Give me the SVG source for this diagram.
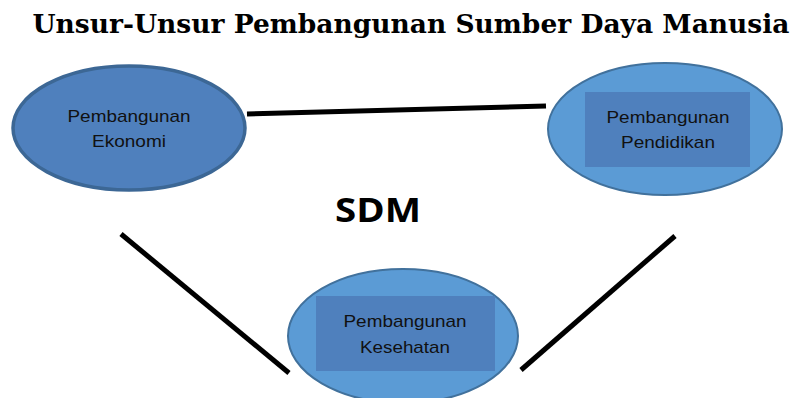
<svg xmlns="http://www.w3.org/2000/svg" width="795" height="398" viewBox="0 0 795 398">
<style>
.lbl{font-family:"Liberation Sans","Open Sans",sans-serif;font-size:17px;fill:#111;text-anchor:middle}
.conn{stroke:#000;stroke-width:5;fill:none}
.inner{fill:#4f80bd}
.light{fill:#5b9bd5;stroke:#41719c;stroke-width:2}
</style>
<rect width="795" height="398" fill="#fff"/>
<text x="411" y="33" text-anchor="middle" font-family="'DejaVu Serif','Liberation Serif',serif" font-weight="bold" font-size="26" textLength="757" lengthAdjust="spacingAndGlyphs">Unsur-Unsur Pembangunan Sumber Daya Manusia</text>
<g id="connectors">
<line class="conn" x1="247" y1="114" x2="546" y2="106"/>
<line class="conn" x1="121" y1="234" x2="289" y2="373"/>
<line class="conn" x1="675" y1="236" x2="521" y2="370"/>
</g>
<g id="ekonomi">
<ellipse cx="129" cy="128" rx="116" ry="62" fill="#4f80bd" stroke="#3c6795" stroke-width="3.5"/>
<text class="lbl" x="129" y="122" textLength="123" lengthAdjust="spacingAndGlyphs">Pembangunan</text>
<text class="lbl" x="129" y="147" textLength="74" lengthAdjust="spacingAndGlyphs">Ekonomi</text>
</g>
<g id="pendidikan">
<ellipse class="light" cx="665" cy="129" rx="117" ry="66"/>
<rect class="inner" x="585" y="92" width="165" height="75"/>
<text class="lbl" x="668" y="123" textLength="123" lengthAdjust="spacingAndGlyphs">Pembangunan</text>
<text class="lbl" x="668" y="148" textLength="94" lengthAdjust="spacingAndGlyphs">Pendidikan</text>
</g>
<g id="kesehatan">
<ellipse class="light" cx="403" cy="336" rx="115" ry="67"/>
<rect class="inner" x="316" y="296" width="179" height="75"/>
<text class="lbl" x="405" y="327" textLength="123" lengthAdjust="spacingAndGlyphs">Pembangunan</text>
<text class="lbl" x="405" y="353" textLength="90" lengthAdjust="spacingAndGlyphs">Kesehatan</text>
</g>
<g id="sdm">
<text x="378" y="222" text-anchor="middle" font-family="'Open Sans','Liberation Sans',sans-serif" font-weight="bold" font-size="34" textLength="86" lengthAdjust="spacingAndGlyphs">SDM</text>
</g>
</svg>
